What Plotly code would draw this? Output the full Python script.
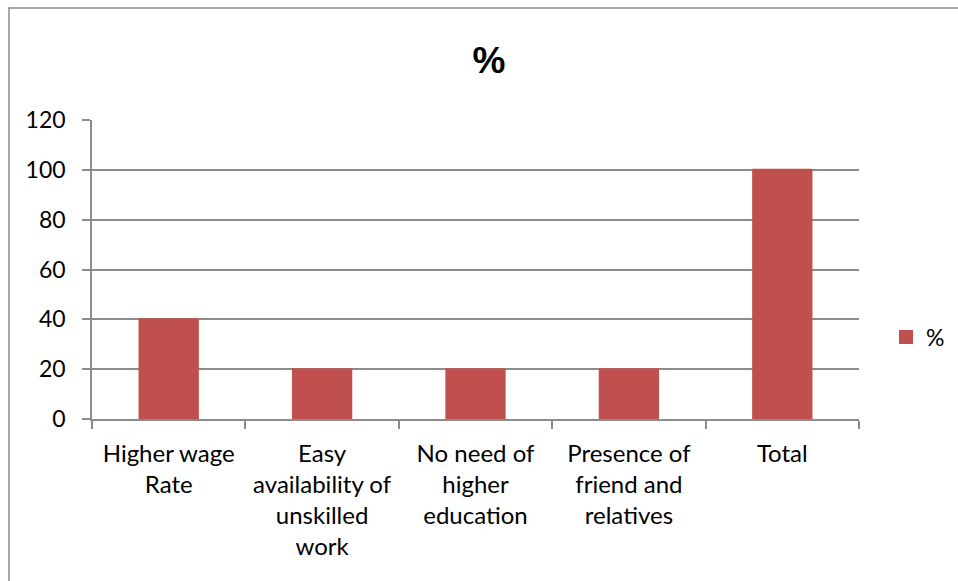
import plotly.graph_objects as go

categories = [
    "Higher wage<br>Rate",
    "Easy<br>availability of<br>unskilled<br>work",
    "No need of<br>higher<br>education",
    "Presence of<br>friend and<br>relatives",
    "Total",
]
values = [40, 20, 20, 20, 100]
y_ticks = [0, 20, 40, 60, 80, 100, 120]

W, H = 958, 581
ml, mr, mt, mb = 92, 99, 120, 162
pw = W - ml - mr
ph = H - mt - mb

def px_x(p):
    return (p - ml) / pw

def px_y(p):
    return (H - mb - p) / ph

FONT = "Lato, 'Liberation Sans', sans-serif"
GRID = "#8c8c8c"
BAR = "#C0504D"

fig = go.Figure()
fig.add_trace(go.Bar(
    x=categories, y=values, name="%",
    marker=dict(color=BAR, line=dict(width=2, color=BAR)),
))

fig.update_layout(
    width=W, height=H,
    margin=dict(l=ml, r=mr, t=mt, b=mb, autoexpand=False),
    paper_bgcolor="white", plot_bgcolor="white",
    bargap=0.62,
    showlegend=True,
    title=dict(text="<b>%</b>", x=489 / W, xanchor="center", y=1 - 60 / H, yanchor="middle",
               xref="container", yref="container",
               font=dict(family="'Liberation Sans', Arial, sans-serif", size=37, color="black")),
    legend=dict(x=px_x(886), xanchor="left", y=px_y(337), yanchor="middle",
                font=dict(family=FONT, size=23, color="black"),
                bgcolor="rgba(0,0,0,0)", itemwidth=30),
    font=dict(family=FONT, size=24, color="black"),
)

fig.update_xaxes(
    type="category",
    showline=True, linecolor=GRID, linewidth=1.5,
    ticks="outside", tickson="boundaries", ticklen=8, tickcolor=GRID, tickwidth=1.5,
    showgrid=False,
    tickfont=dict(family=FONT, size=24, color="black"),
    ticklabelstandoff=12,
)
fig.update_yaxes(
    range=[0, 120], tickvals=y_ticks,
    showline=True, linecolor=GRID, linewidth=1.5,
    ticks="outside", ticklen=8, tickcolor=GRID, tickwidth=1.5,
    showgrid=True, gridcolor=GRID, gridwidth=1.5,
    zeroline=False,
    tickfont=dict(family=FONT, size=23, color="black"),
    ticklabelstandoff=12,
)

fig.add_shape(type="rect", xref="paper", yref="paper",
              x0=px_x(9), x1=px_x(1000), y0=px_y(620), y1=px_y(8),
              line=dict(color="#8a8a8a", width=1.5), fillcolor="rgba(0,0,0,0)", layer="below")

fig.write_html("out.html", config={"displayModeBar": False},
               post_script="document.body.style.margin='0';document.body.style.overflow='hidden';")
